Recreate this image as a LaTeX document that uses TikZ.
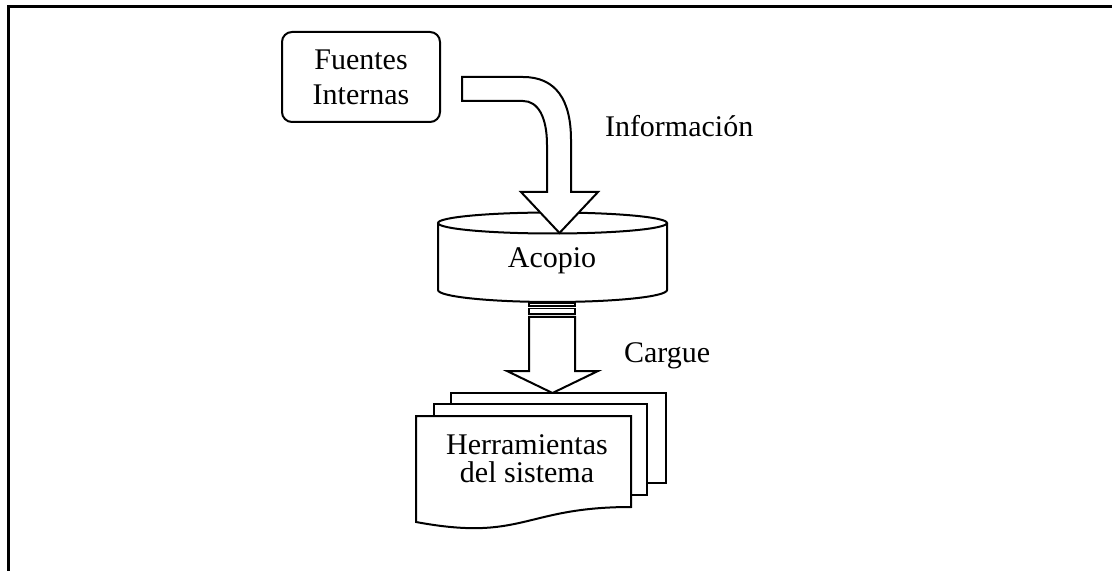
\documentclass[tikz,border=0pt]{standalone}
\usepackage{fontspec}
\setmainfont{Liberation Serif}

\begin{document}
\begin{tikzpicture}[x=0.5pt, y=-0.5pt, line width=1pt,
    txt/.style={font=\fontsize{15}{17.5}\selectfont, inner sep=0pt},
    piece/.style={draw, fill=white, line join=miter}]
    \useasboundingbox (0,0) rectangle (1112,571);
    \draw[line width=1.5pt] (8,571) -- (8,7) -- (1112,7);
    \node[draw, rounded corners=5pt, minimum width=79pt, minimum height=45pt, align=center, txt] (fuentes) at (361,77) {Fuentes\\Internas};
    \coordinate (acopiotop) at (552.5,223);
    \filldraw[fill=white] (438,223) -- (438,290) .. controls (438,296.6) and (489.3,302) .. (552.5,302) .. controls (615.7,302) and (667,296.6) .. (667,290) -- (667,223);
    \draw (acopiotop) ellipse [x radius=57.25pt, y radius=5.25pt];
    \node[txt, anchor=base] (acopio) at (552,268) {Acopio};
    \draw[piece] (462,77) -- (523,77) .. controls (556,77) and (571,100) .. (571,140) -- (571,192) -- (598,192) -- (559.5,233) -- (521,192) -- (547,192) -- (547,145) .. controls (547,117) and (538,101) .. (523,101) -- (462,101) -- cycle;
    \draw[piece, line width=0.7pt] (529,303) rectangle (575,306);
    \draw[piece, line width=0.7pt] (529,308.5) rectangle (575,314);
    \draw[piece] (529,317) -- (575,317) -- (575,371) -- (598,371) -- (552.5,393) -- (507,371) -- (529,371) -- cycle;
    \draw[piece] (451,393) rectangle (666,483);
    \draw[piece] (434,404) rectangle (647,495);
    \draw[piece] (416,416) -- (631,416) -- (631,507) .. controls (523.5,507) and (523.5,542) .. (416,522) -- cycle;
    \node[align=center, inner sep=0pt, font=\fontsize{15}{14}\selectfont] (herramientas) at (527,459) {Herramientas\\del sistema};
    \node[txt, anchor=base west] (info) at (604,137) {Información};
    \node[txt, anchor=base west] (cargue) at (623,363) {Cargue};
\end{tikzpicture}
\end{document}
